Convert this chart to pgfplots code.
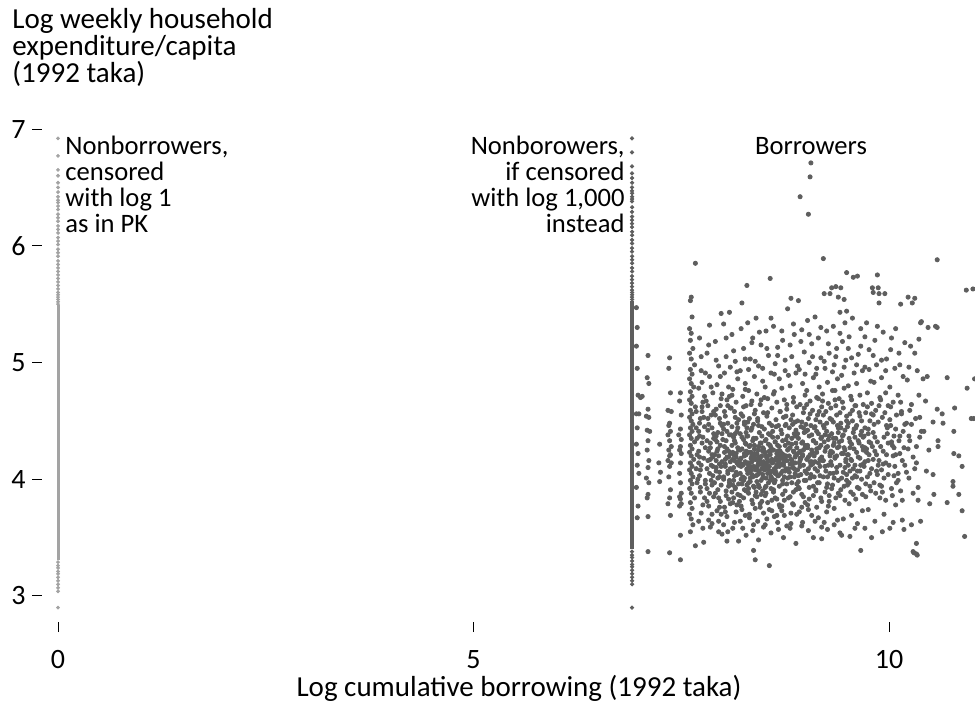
\documentclass[border=0pt]{standalone}
\usepackage{pgfplots}
\pgfplotsset{compat=1.18}
\usepackage{pgfplotstable}
\usepackage{fontspec}
\setmainfont{Carlito}
\definecolor{bdot}{HTML}{5E5E5E}
\definecolor{ndot}{HTML}{A3A3A3}

\pgfplotstableread{
x y
6.96 5.47
6.97 5.30
6.96 5.14
6.97 4.95
6.98 4.72
7.01 4.70
7.03 4.71
6.96 4.56
6.99 4.56
6.97 4.44
6.96 4.30
6.98 4.22
6.97 4.12
6.99 4.05
6.96 3.93
6.98 3.77
6.97 3.67
7.10 5.06
7.09 4.87
7.11 4.82
7.10 4.60
7.08 4.54
7.11 4.53
7.09 4.42
7.12 4.41
7.10 4.33
7.09 4.25
7.11 4.16
7.10 4.10
7.08 4.01
7.11 3.97
7.10 3.87
7.09 3.84
7.10 3.68
7.10 3.38
7.24 4.30
7.23 4.14
7.25 4.06
7.24 3.98
7.36 5.04
7.35 4.95
7.37 4.74
7.34 4.59
7.38 4.58
7.36 4.48
7.35 4.46
7.37 4.41
7.34 4.38
7.36 4.33
7.38 4.28
7.35 4.25
7.37 4.21
7.36 4.20
7.34 4.16
7.38 4.14
7.36 4.11
7.35 4.02
7.37 3.91
7.36 3.84
7.34 3.79
7.37 3.69
7.36 3.37
7.49 4.74
7.48 4.67
7.50 4.55
7.49 4.43
7.47 4.38
7.50 4.34
7.49 4.28
7.48 4.25
7.50 4.22
7.49 4.14
7.48 4.05
7.49 3.97
7.50 3.88
7.48 3.85
7.49 3.83
7.50 3.79
7.48 3.77
7.49 3.52
7.49 3.31
7.67 5.85
7.62 5.56
7.61 5.53
7.63 5.39
7.60 5.29
7.62 5.25
7.61 5.19
7.64 5.12
7.60 5.08
7.62 5.03
7.66 4.98
7.61 4.94
7.63 4.90
7.60 4.86
7.62 4.82
7.65 4.79
7.61 4.75
7.63 4.71
7.60 4.68
7.62 4.65
7.67 4.62
7.61 4.59
7.63 4.56
7.60 4.53
7.62 4.50
7.64 4.47
7.61 4.44
7.63 4.41
7.60 4.38
7.62 4.35
7.66 4.32
7.61 4.29
7.63 4.26
7.60 4.23
7.62 4.20
7.65 4.17
7.61 4.14
7.63 4.11
7.60 4.08
7.62 4.05
7.64 4.02
7.61 3.99
7.63 3.96
7.60 3.92
7.62 3.88
7.66 3.84
7.61 3.80
7.63 3.75
7.60 3.70
7.62 3.66
7.64 3.61
7.61 3.55
7.67 3.43
7.68 4.44
7.69 4.21
7.68 4.09
7.69 4.35
7.68 4.58
7.69 3.97
7.72 5.21
7.74 4.93
7.71 4.78
7.76 4.66
7.73 4.52
7.78 4.45
7.72 4.37
7.75 4.31
7.71 4.24
7.77 4.18
7.74 4.12
7.72 4.03
7.79 3.96
7.73 3.89
7.76 3.78
7.71 3.64
7.77 3.46
7.75 4.58
7.81 5.08
7.84 4.88
7.88 4.74
7.82 4.63
7.86 4.55
7.83 4.47
7.89 4.39
7.81 4.33
7.85 4.27
7.87 4.21
7.82 4.16
7.88 4.11
7.84 4.05
7.86 3.99
7.81 3.92
7.89 3.85
7.83 3.77
7.87 3.70
7.85 3.59
7.82 4.42
7.88 4.19
7.84 5.32
7.91 5.18
7.95 4.97
7.93 4.81
7.98 4.69
7.92 4.60
7.96 4.52
7.99 4.46
7.94 4.40
7.91 4.34
7.97 4.29
7.93 4.24
7.95 4.20
7.99 4.15
7.92 4.10
7.96 4.06
7.94 4.01
7.98 3.95
7.91 3.88
7.97 3.81
7.93 3.73
7.95 3.64
7.99 3.53
7.92 4.37
7.96 4.13
7.98 5.42
8.01 5.33
8.08 5.43
8.04 5.05
8.02 4.91
8.07 4.79
8.05 4.68
8.09 4.61
8.03 4.54
8.06 4.48
8.01 4.43
8.08 4.38
8.04 4.33
8.02 4.28
8.07 4.24
8.05 4.19
8.09 4.15
8.03 4.11
8.06 4.07
8.01 4.02
8.08 3.97
8.04 3.90
8.07 3.83
8.02 3.76
8.05 3.68
8.06 3.55
8.09 4.22
8.03 4.17
8.01 3.61
8.11 5.24
8.15 5.01
8.18 4.86
8.12 4.77
8.16 4.66
8.14 4.58
8.19 4.51
8.11 4.45
8.17 4.41
8.13 4.36
8.15 4.31
8.18 4.27
8.12 4.23
8.16 4.19
8.14 4.16
8.19 4.12
8.11 4.08
8.17 4.04
8.13 3.99
8.15 3.93
8.18 3.87
8.12 3.80
8.16 3.72
8.14 3.63
8.19 3.47
8.13 4.21
8.17 4.14
8.11 4.29
8.15 4.39
8.12 3.95
8.23 5.51
8.29 5.66
8.25 5.12
8.21 4.93
8.27 4.82
8.24 4.71
8.28 4.63
8.22 4.56
8.26 4.49
8.29 4.44
8.21 4.39
8.25 4.34
8.28 4.30
8.23 4.26
8.26 4.22
8.22 4.18
8.27 4.15
8.24 4.12
8.29 4.09
8.21 4.05
8.26 4.01
8.23 3.96
8.28 3.90
8.25 3.84
8.22 3.77
8.27 3.69
8.24 3.58
8.26 4.20
8.22 4.13
8.28 4.24
8.21 4.17
8.25 3.99
8.29 4.37
8.30 5.34
8.36 5.21
8.33 5.03
8.38 4.88
8.31 4.76
8.35 4.67
8.39 4.59
8.32 4.52
8.37 4.47
8.34 4.42
8.30 4.37
8.36 4.33
8.33 4.29
8.38 4.26
8.31 4.23
8.35 4.20
8.39 4.17
8.32 4.14
8.37 4.11
8.34 4.08
8.30 4.05
8.36 4.02
8.33 3.98
8.38 3.93
8.31 3.88
8.35 3.82
8.39 3.75
8.32 3.67
8.37 3.61
8.37 3.39
8.34 4.18
8.31 4.12
8.38 4.22
8.33 4.07
8.35 4.15
8.39 3.31
8.40 5.38
8.46 5.15
8.43 4.97
8.48 4.84
8.41 4.73
8.45 4.64
8.49 4.57
8.42 4.50
8.47 4.45
8.44 4.40
8.40 4.35
8.46 4.31
8.43 4.28
8.48 4.24
8.41 4.21
8.45 4.18
8.49 4.15
8.42 4.12
8.47 4.09
8.44 4.06
8.40 4.03
8.46 3.99
8.43 3.95
8.48 3.90
8.41 3.85
8.45 3.79
8.49 3.71
8.42 3.64
8.49 3.59
8.44 4.16
8.47 4.20
8.41 4.10
8.45 4.13
8.43 4.25
8.48 4.04
8.46 3.87
8.57 5.72
8.52 5.27
8.55 5.06
8.58 4.91
8.51 4.79
8.54 4.69
8.59 4.61
8.53 4.54
8.56 4.48
8.50 4.43
8.57 4.38
8.52 4.34
8.55 4.30
8.58 4.27
8.51 4.23
8.54 4.20
8.59 4.17
8.53 4.14
8.56 4.11
8.50 4.08
8.57 4.05
8.52 4.01
8.55 3.97
8.58 3.92
8.51 3.86
8.54 3.80
8.59 3.73
8.53 3.66
8.56 3.26
8.55 4.16
8.51 4.12
8.57 4.21
8.53 4.09
8.58 4.02
8.52 3.94
8.61 5.31
8.66 5.13
8.63 4.99
8.68 4.86
8.62 4.75
8.65 4.66
8.69 4.58
8.64 4.51
8.67 4.46
8.60 4.41
8.66 4.36
8.63 4.32
8.68 4.28
8.61 4.25
8.65 4.22
8.69 4.19
8.62 4.16
8.67 4.13
8.64 4.10
8.60 4.07
8.66 4.03
8.63 3.99
8.68 3.94
8.61 3.89
8.65 3.83
8.69 3.76
8.62 3.68
8.67 3.57
8.64 4.18
8.60 4.14
8.66 4.24
8.63 4.05
8.68 4.11
8.78 5.46
8.72 5.19
8.75 5.02
8.79 4.89
8.71 4.78
8.74 4.68
8.77 4.60
8.73 4.53
8.76 4.47
8.70 4.42
8.78 4.37
8.72 4.33
8.75 4.29
8.79 4.26
8.71 4.22
8.74 4.19
8.77 4.16
8.73 4.12
8.76 4.09
8.70 4.05
8.78 4.01
8.72 3.96
8.75 3.90
8.79 3.84
8.71 3.77
8.74 3.69
8.77 3.60
8.73 4.14
8.76 4.20
8.72 4.07
8.82 5.55
8.86 5.24
8.83 5.05
8.88 4.91
8.81 4.80
8.85 4.70
8.89 4.62
8.84 4.55
8.87 4.49
8.80 4.44
8.86 4.39
8.83 4.35
8.88 4.31
8.81 4.27
8.85 4.24
8.89 4.21
8.82 4.17
8.87 4.14
8.84 4.10
8.80 4.06
8.86 4.02
8.83 3.97
8.88 3.91
8.81 3.85
8.85 3.78
8.89 3.70
8.82 3.62
8.87 4.19
8.84 4.13
8.93 6.42
8.91 5.53
8.95 5.28
8.98 5.09
8.92 4.94
8.96 4.82
8.99 4.72
8.93 4.64
8.97 4.57
8.90 4.50
8.94 4.45
8.98 4.40
8.91 4.35
8.95 4.31
8.99 4.27
8.92 4.23
8.96 4.20
8.93 4.16
8.97 4.12
8.90 4.08
8.94 4.04
8.98 3.99
8.91 3.93
8.95 3.87
8.99 3.80
8.92 3.72
8.96 3.63
8.97 4.25
8.93 4.18
9.06 6.71
9.05 6.59
9.03 6.27
9.02 5.36
9.07 5.16
9.04 5.00
9.09 4.87
9.01 4.76
9.05 4.67
9.08 4.59
9.03 4.52
9.06 4.46
9.00 4.41
9.04 4.37
9.09 4.33
9.02 4.29
9.07 4.25
9.05 4.21
9.01 4.17
9.08 4.13
9.03 4.09
9.06 4.04
9.00 3.99
9.04 3.93
9.09 3.86
9.02 3.78
9.07 3.69
9.09 3.50
9.05 4.15
9.11 5.39
9.15 5.21
9.18 5.04
9.12 4.90
9.16 4.79
9.13 4.70
9.19 4.62
9.14 4.55
9.17 4.49
9.10 4.44
9.15 4.39
9.18 4.35
9.12 4.31
9.16 4.27
9.13 4.23
9.19 4.19
9.11 4.15
9.17 4.11
9.14 4.07
9.10 4.02
9.16 3.97
9.12 3.91
9.18 3.84
9.13 3.76
9.15 3.67
9.19 3.59
9.17 4.17
9.21 5.89
9.22 5.59
9.29 5.59
9.25 5.27
9.28 5.08
9.23 4.95
9.26 4.83
9.20 4.73
9.27 4.65
9.24 4.58
9.29 4.52
9.21 4.46
9.25 4.41
9.28 4.37
9.22 4.32
9.26 4.28
9.23 4.24
9.29 4.20
9.20 4.16
9.27 4.12
9.24 4.07
9.21 4.02
9.26 3.96
9.23 3.89
9.28 3.81
9.25 3.72
9.22 3.63
9.31 5.64
9.36 5.65
9.39 5.56
9.33 5.31
9.37 5.12
9.34 4.98
9.38 4.86
9.32 4.76
9.35 4.68
9.30 4.61
9.37 4.55
9.33 4.49
9.39 4.44
9.31 4.39
9.36 4.35
9.34 4.31
9.38 4.27
9.32 4.23
9.35 4.19
9.30 4.15
9.37 4.10
9.33 4.05
9.39 3.99
9.31 3.92
9.36 3.84
9.34 3.75
9.38 3.65
9.42 5.64
9.46 5.54
9.41 5.43
9.49 5.44
9.47 5.34
9.49 5.77
9.44 5.18
9.48 5.02
9.43 4.89
9.46 4.78
9.40 4.69
9.45 4.61
9.49 4.54
9.42 4.48
9.47 4.42
9.44 4.37
9.40 4.32
9.46 4.27
9.43 4.22
9.48 4.17
9.41 4.12
9.45 4.06
9.49 3.99
9.42 3.91
9.47 3.82
9.41 3.54
9.43 3.52
9.57 5.73
9.52 5.22
9.55 5.04
9.58 4.91
9.51 4.80
9.54 4.71
9.59 4.63
9.53 4.56
9.56 4.50
9.50 4.45
9.57 4.40
9.52 4.35
9.55 4.30
9.58 4.26
9.51 4.21
9.54 4.17
9.59 4.12
9.53 4.07
9.56 4.01
9.50 3.95
9.57 3.87
9.52 3.79
9.59 3.58
9.55 3.69
9.62 5.74
9.66 5.29
9.63 5.07
9.68 4.93
9.61 4.82
9.65 4.72
9.69 4.64
9.64 4.57
9.67 4.50
9.60 4.44
9.66 4.38
9.63 4.33
9.68 4.28
9.61 4.23
9.65 4.18
9.69 4.13
9.62 4.07
9.67 4.00
9.64 3.92
9.60 3.83
9.66 3.39
9.68 3.73
9.73 5.34
9.76 5.11
9.71 4.96
9.78 4.84
9.74 4.74
9.79 4.65
9.72 4.57
9.77 4.50
9.75 4.43
9.70 4.37
9.78 4.31
9.73 4.26
9.76 4.21
9.71 4.15
9.79 4.09
9.74 4.02
9.77 3.94
9.72 3.85
9.79 3.50
9.75 3.74
9.80 5.64
9.81 5.60
9.88 5.59
9.86 5.75
9.87 5.64
9.88 5.51
9.83 5.19
9.85 4.98
9.82 4.83
9.89 4.70
9.84 4.59
9.87 4.49
9.81 4.40
9.86 4.32
9.83 4.24
9.88 4.16
9.85 4.07
9.82 3.97
9.89 3.84
9.95 5.59
9.93 5.26
9.97 5.03
9.91 4.87
9.96 4.74
9.99 4.63
9.92 4.53
9.98 4.44
9.94 4.36
9.90 4.28
9.97 4.21
9.93 4.13
9.99 4.04
9.91 3.94
9.96 3.82
9.94 3.70
10.03 5.21
10.07 4.95
10.01 4.79
10.05 4.66
10.09 4.55
10.02 4.46
10.06 4.37
10.04 4.29
10.08 4.21
10.00 4.12
10.06 4.03
10.03 3.92
10.01 3.58
10.08 3.78
10.14 5.50
10.12 5.08
10.17 4.88
10.11 4.72
10.15 4.58
10.19 4.47
10.13 4.37
10.18 4.27
10.16 4.16
10.11 4.05
10.16 3.65
10.14 3.90
10.23 5.56
10.28 5.51
10.26 5.14
10.22 4.85
10.27 4.64
10.21 4.48
10.25 4.33
10.29 4.19
10.24 4.01
10.27 3.61
10.29 3.38
10.31 5.55
10.38 5.34
10.39 5.35
10.34 4.93
10.36 4.72
10.32 4.52
10.37 4.36
10.33 4.14
10.35 3.93
10.38 3.64
10.33 3.36
10.33 3.45
10.34 3.35
10.30 3.37
10.47 5.30
10.46 4.88
10.41 4.86
10.44 4.67
10.42 4.41
10.48 4.25
10.45 4.07
10.49 3.79
10.58 5.88
10.56 5.31
10.58 5.30
10.58 4.60
10.53 4.49
10.59 4.28
10.59 4.33
10.53 4.04
10.54 3.87
10.64 4.56
10.65 4.48
10.70 4.87
10.70 3.80
10.79 4.61
10.78 4.41
10.78 4.22
10.77 3.98
10.77 3.94
10.84 4.20
10.88 4.11
10.84 3.87
10.88 3.73
10.91 3.51
10.94 4.78
10.99 4.52
11.02 4.52
11.01 5.63
10.93 5.62
11.03 4.86
}\borrowers

\pgfplotstableread{
x y
7.73 4.08
7.71 4.41
7.78 3.84
7.75 4.62
7.72 4.19
7.79 4.27
7.74 3.71
7.77 4.53
7.70 4.00
7.76 4.36
7.73 3.93
7.78 4.71
7.71 4.14
7.75 4.83
7.79 3.99
7.72 4.48
7.86 4.12
7.81 3.81
7.89 4.58
7.83 4.24
7.87 3.95
7.80 4.67
7.85 4.31
7.88 4.03
7.82 4.52
7.84 3.88
7.89 4.35
7.81 4.09
7.86 4.79
7.83 3.65
7.87 4.44
7.85 4.17
7.94 4.26
7.90 3.97
7.97 4.63
7.92 4.07
7.99 4.39
7.95 3.84
7.91 4.55
7.98 4.11
7.93 4.32
7.96 3.76
7.90 4.21
7.97 4.48
7.94 3.91
7.99 4.73
7.92 4.16
7.96 4.02
7.98 3.70
8.03 4.13
8.07 3.94
8.01 4.47
8.05 4.26
8.09 3.79
8.02 4.58
8.06 4.05
8.00 4.34
8.08 4.71
8.04 3.86
8.07 4.19
8.01 4.00
8.05 4.41
8.09 4.09
8.03 3.72
8.06 4.63
8.02 4.23
8.08 3.99
8.14 4.03
8.18 4.44
8.11 3.89
8.16 4.22
8.10 4.61
8.13 4.10
8.19 3.96
8.15 4.53
8.12 4.17
8.17 3.78
8.14 4.33
8.19 4.25
8.11 4.72
8.16 4.06
8.13 3.84
8.18 4.14
8.10 4.38
8.15 3.92
8.17 4.48
8.24 4.02
8.28 4.21
8.21 3.86
8.26 4.47
8.22 4.11
8.29 3.95
8.25 4.62
8.20 4.16
8.27 4.31
8.23 3.74
8.29 4.08
8.24 4.54
8.21 4.25
8.26 3.91
8.28 4.40
8.22 4.00
8.27 4.77
8.25 4.13
8.20 3.81
8.23 4.36
8.33 4.01
8.37 4.19
8.31 3.92
8.35 4.44
8.39 4.08
8.32 4.28
8.36 3.79
8.30 4.14
8.38 4.56
8.34 4.23
8.31 3.97
8.37 4.35
8.33 4.11
8.39 3.86
8.35 4.04
8.30 4.49
8.36 4.17
8.32 3.70
8.38 4.29
8.34 4.64
8.37 3.94
8.44 4.19
8.41 3.98
8.47 4.37
8.43 4.07
8.49 4.26
8.40 3.89
8.46 4.13
8.42 4.52
8.48 4.01
8.45 4.31
8.41 4.22
8.47 3.81
8.43 4.46
8.49 4.10
8.44 3.93
8.40 4.17
8.46 4.68
8.42 4.04
8.48 4.27
8.45 3.76
8.43 4.14
8.53 4.18
8.57 3.99
8.51 4.33
8.55 4.08
8.59 4.46
8.52 3.88
8.56 4.24
8.50 4.13
8.58 4.02
8.54 4.57
8.51 3.93
8.57 4.29
8.53 4.11
8.59 3.82
8.55 4.39
8.52 4.20
8.56 3.74
8.58 4.15
8.54 4.05
8.50 4.70
8.57 4.23
8.62 4.09
8.66 4.29
8.61 3.91
8.64 4.45
8.68 4.17
8.63 3.84
8.67 4.03
8.60 4.36
8.65 4.12
8.69 4.58
8.62 3.97
8.66 4.21
8.61 4.73
8.64 4.06
8.68 3.78
8.63 4.32
8.67 4.15
8.60 4.00
8.65 3.69
8.69 4.24
8.73 4.21
8.77 3.96
8.71 4.39
8.75 4.07
8.79 4.31
8.72 3.87
8.76 4.54
8.70 4.13
8.74 4.02
8.78 4.25
8.71 3.73
8.75 4.46
8.79 4.09
8.73 4.17
8.77 4.64
8.72 3.99
8.76 4.34
8.74 3.82
8.83 4.16
8.87 4.37
8.81 4.02
8.85 3.89
8.89 4.27
8.82 4.51
8.86 4.09
8.80 4.20
8.84 3.79
8.88 4.42
8.81 4.13
8.85 4.66
8.89 3.96
8.83 4.30
8.87 4.05
8.82 3.71
8.86 4.23
8.84 4.47
8.92 4.14
8.96 4.32
8.91 3.98
8.95 4.49
8.99 4.07
8.93 4.24
8.97 3.85
8.90 4.39
8.94 4.18
8.98 4.61
8.91 4.03
8.95 3.76
8.99 4.29
8.93 4.11
8.97 4.44
8.92 3.92
8.96 4.21
9.03 4.19
9.07 4.38
9.01 4.05
9.05 4.56
9.09 3.94
9.02 4.27
9.06 4.12
9.00 4.47
9.04 3.83
9.08 4.23
9.01 4.64
9.05 4.01
9.09 4.33
9.03 3.74
9.07 4.15
9.02 4.42
9.13 4.26
9.17 4.03
9.11 4.45
9.15 4.14
9.19 4.36
9.12 3.90
9.16 4.58
9.10 4.20
9.14 3.97
9.18 4.29
9.11 4.09
9.15 4.69
9.19 3.81
9.13 4.41
9.17 4.17
9.12 4.51
9.23 4.11
9.27 4.34
9.21 4.55
9.25 3.93
9.29 4.22
9.22 4.44
9.26 4.02
9.20 4.67
9.24 4.27
9.28 3.86
9.21 4.16
9.25 4.48
9.29 4.05
9.23 4.38
9.27 3.77
9.33 4.29
9.37 4.06
9.31 4.51
9.35 4.18
9.39 4.40
9.32 3.95
9.36 4.63
9.30 4.24
9.34 4.01
9.38 4.46
9.31 4.12
9.35 4.76
9.39 3.88
9.33 4.35
9.37 4.20
9.43 4.33
9.47 4.10
9.41 4.57
9.45 4.22
9.49 4.04
9.42 4.44
9.46 3.94
9.40 4.28
9.44 4.66
9.48 4.15
9.41 3.86
9.45 4.38
9.49 4.50
9.43 4.01
9.47 4.25
9.53 4.27
9.57 4.09
9.51 4.48
9.55 4.16
9.59 4.36
9.52 3.97
9.56 4.59
9.50 4.21
9.54 3.89
9.58 4.43
9.51 4.12
9.55 4.68
9.59 4.03
9.53 4.32
9.63 4.19
9.67 4.41
9.61 4.02
9.65 4.54
9.69 4.25
9.62 3.93
9.66 4.12
9.60 4.63
9.64 4.31
9.68 3.87
9.61 4.46
9.65 4.07
9.69 4.36
9.73 4.23
9.77 4.05
9.71 4.44
9.75 4.16
9.79 4.56
9.72 3.96
9.76 4.32
9.70 4.11
9.74 4.62
9.78 3.90
9.71 4.27
9.75 4.39
9.83 4.36
9.87 4.12
9.81 4.55
9.85 4.21
9.89 3.95
9.82 4.47
9.86 4.04
9.80 4.28
9.84 3.88
9.88 4.63
9.81 4.17
9.93 4.24
9.97 4.46
9.91 4.08
9.95 4.57
9.99 4.31
9.92 3.89
9.96 4.14
9.90 4.68
9.94 4.01
9.98 4.39
10.03 4.32
10.07 4.11
10.01 4.51
10.05 4.20
10.09 3.97
10.02 4.62
10.06 4.27
10.04 3.86
10.08 4.43
10.13 4.22
10.17 4.41
10.11 3.99
10.15 4.56
10.19 4.12
10.12 4.33
10.16 3.82
10.14 4.66
10.23 4.26
10.27 4.47
10.21 4.06
10.25 4.59
10.29 3.88
10.24 4.37
10.33 4.28
10.37 4.53
10.31 4.09
10.35 3.82
10.39 4.41
7.74 5.05
7.79 4.91
7.83 5.15
7.92 5.02
7.97 4.88
8.04 5.21
8.09 4.96
8.13 5.10
8.17 4.92
8.22 5.29
8.27 5.03
8.31 4.94
8.35 5.17
8.39 5.01
8.44 5.26
8.48 4.95
8.53 5.12
8.58 5.38
8.62 4.90
8.66 5.06
8.71 5.27
8.75 4.93
8.81 5.15
8.85 5.33
8.90 4.97
8.94 5.18
8.99 4.90
9.04 5.24
9.08 5.05
9.13 4.95
9.18 5.30
9.22 5.01
9.27 5.16
9.32 4.92
9.36 5.05
9.41 5.25
9.46 4.96
9.51 5.12
9.56 5.38
9.61 4.98
9.66 5.14
9.71 5.22
9.76 4.94
9.81 5.06
9.86 5.31
9.91 5.02
9.96 4.93
10.02 5.11
10.08 5.29
10.13 4.98
10.19 5.17
10.24 4.96
10.31 5.08
10.36 5.20
7.76 3.58
7.87 3.62
7.95 3.55
8.05 3.47
8.12 3.58
8.21 3.64
8.28 3.52
8.36 3.56
8.43 3.48
8.51 3.61
8.58 3.54
8.66 3.63
8.73 3.50
8.81 3.58
8.88 3.45
8.95 3.60
9.03 3.56
9.11 3.64
9.19 3.49
9.26 3.57
9.34 3.61
9.45 3.66
9.53 3.51
9.62 3.62
9.71 3.58
9.83 3.64
9.92 3.55
10.05 3.63
10.18 3.57
}\borrowersb

\pgfplotstableread{
x y
0 6.92
0 6.77
0 6.65
0 6.60
0 6.54
0 6.50
0 6.46
0 6.42
0 6.39
0 6.37
0 6.34
0 6.31
0 6.27
0 6.24
0 6.21
0 6.17
0 6.14
0 6.11
0 6.07
0 6.04
0 6.01
0 5.97
0 5.94
0 5.91
0 5.87
0 5.84
0 5.81
0 5.78
0 5.75
0 5.72
0 5.69
0 5.66
0 5.63
0 5.60
0 5.58
0 5.56
0 5.54
0 5.52
0 5.50
0 3.29
0 3.26
0 3.24
0 3.21
0 3.19
0 3.16
0 3.13
0 3.10
0 3.07
0 3.04
0 2.90
}\nonzero

\pgfplotstableread{
x y
6.908 6.92
6.908 6.80
6.908 6.68
6.908 6.62
6.908 6.58
6.908 6.54
6.908 6.50
6.908 6.47
6.908 6.45
6.908 6.42
6.908 6.40
6.908 6.38
6.908 6.33
6.908 6.29
6.908 6.25
6.908 6.22
6.908 6.19
6.908 6.16
6.908 6.12
6.908 6.09
6.908 6.05
6.908 6.02
6.908 5.98
6.908 5.95
6.908 5.91
6.908 5.88
6.908 5.85
6.908 5.81
6.908 5.78
6.908 5.74
6.908 5.71
6.908 5.68
6.908 5.65
6.908 5.62
6.908 5.60
6.908 5.58
6.908 5.56
6.908 5.54
6.908 3.38
6.908 3.35
6.908 3.33
6.908 3.30
6.908 3.27
6.908 3.25
6.908 3.22
6.908 3.19
6.908 3.16
6.908 3.13
6.908 3.10
6.908 2.90
}\nonthousand

\begin{document}
\begin{tikzpicture}
\useasboundingbox (0,0) rectangle (487.5pt,351pt);
\begin{axis}[
  at={(21pt,40pt)}, anchor=south west,
  scale only axis, width=466.5pt, height=247.65pt,
  xmin=-0.193, xmax=11.035, ymin=2.777, ymax=7.02,
  axis x line*=bottom, axis y line*=left,
  axis line style={draw=none},
  tick align=outside,
  major tick length=5pt,
  tick style={black, line width=0.5pt},
  xtick={0,5,10}, ytick={3,4,5,6,7},
  minor tick num=0,
  /pgf/number format/assume math mode=true,
  tick label style={font=\fontsize{14}{14}\selectfont},
  yticklabel style={anchor=east, inner sep=0pt, xshift=-3pt},
  xticklabel style={anchor=base, inner sep=0pt, yshift=-18pt},
  clip=true,
]
\addplot[ndot, line width=1.5pt] coordinates {(0,3.31) (0,5.49)};
\addplot[only marks, mark=*, mark size=0.75pt, ndot] table {\nonzero};
\addplot[bdot, line width=2pt] coordinates {(6.908,3.40) (6.908,5.53)};
\addplot[only marks, mark=*, mark size=0.85pt, bdot] table {\nonthousand};
\addplot[only marks, mark=*, mark size=1.05pt, bdot] table {\borrowers};
\addplot[only marks, mark=*, mark size=1.05pt, bdot] table {\borrowersb};
\end{axis}
% axis titles
\node[anchor=base west, inner sep=0pt, font=\fontsize{14.5}{14.5}\selectfont] at (6pt,336.5pt) {Log weekly household};
\node[anchor=base west, inner sep=0pt, font=\fontsize{14.5}{14.5}\selectfont] at (6pt,323pt) {expenditure/capita};
\node[anchor=base west, inner sep=0pt, font=\fontsize{14.5}{14.5}\selectfont] at (6pt,309.5pt) {(1992 taka)};
\node[anchor=base, inner sep=0pt, font=\fontsize{14.5}{14.5}\selectfont] at (259.5pt,3pt) {Log cumulative borrowing (1992 taka)};
% annotations
\node[anchor=base west, inner sep=0pt, font=\fontsize{13.3}{13.3}\selectfont] at (32.5pt,273.85pt) {Nonborrowers,};
\node[anchor=base west, inner sep=0pt, font=\fontsize{13.3}{13.3}\selectfont] at (32.5pt,260.9pt) {censored};
\node[anchor=base west, inner sep=0pt, font=\fontsize{13.3}{13.3}\selectfont] at (32.5pt,247.65pt) {with log 1};
\node[anchor=base west, inner sep=0pt, font=\fontsize{13.3}{13.3}\selectfont] at (32.5pt,234.65pt) {as in PK};
\node[anchor=base east, inner sep=0pt, font=\fontsize{13.3}{13.3}\selectfont] at (312.5pt,273.85pt) {Nonborowers,};
\node[anchor=base east, inner sep=0pt, font=\fontsize{13.3}{13.3}\selectfont] at (312.5pt,260.9pt) {if censored};
\node[anchor=base east, inner sep=0pt, font=\fontsize{13.3}{13.3}\selectfont] at (312.5pt,247.65pt) {with log 1,000};
\node[anchor=base east, inner sep=0pt, font=\fontsize{13.3}{13.3}\selectfont] at (312.5pt,234.65pt) {instead};
\node[anchor=base, inner sep=0pt, font=\fontsize{13.3}{13.3}\selectfont] at (405.5pt,273.85pt) {Borrowers};
\end{tikzpicture}
\end{document}
